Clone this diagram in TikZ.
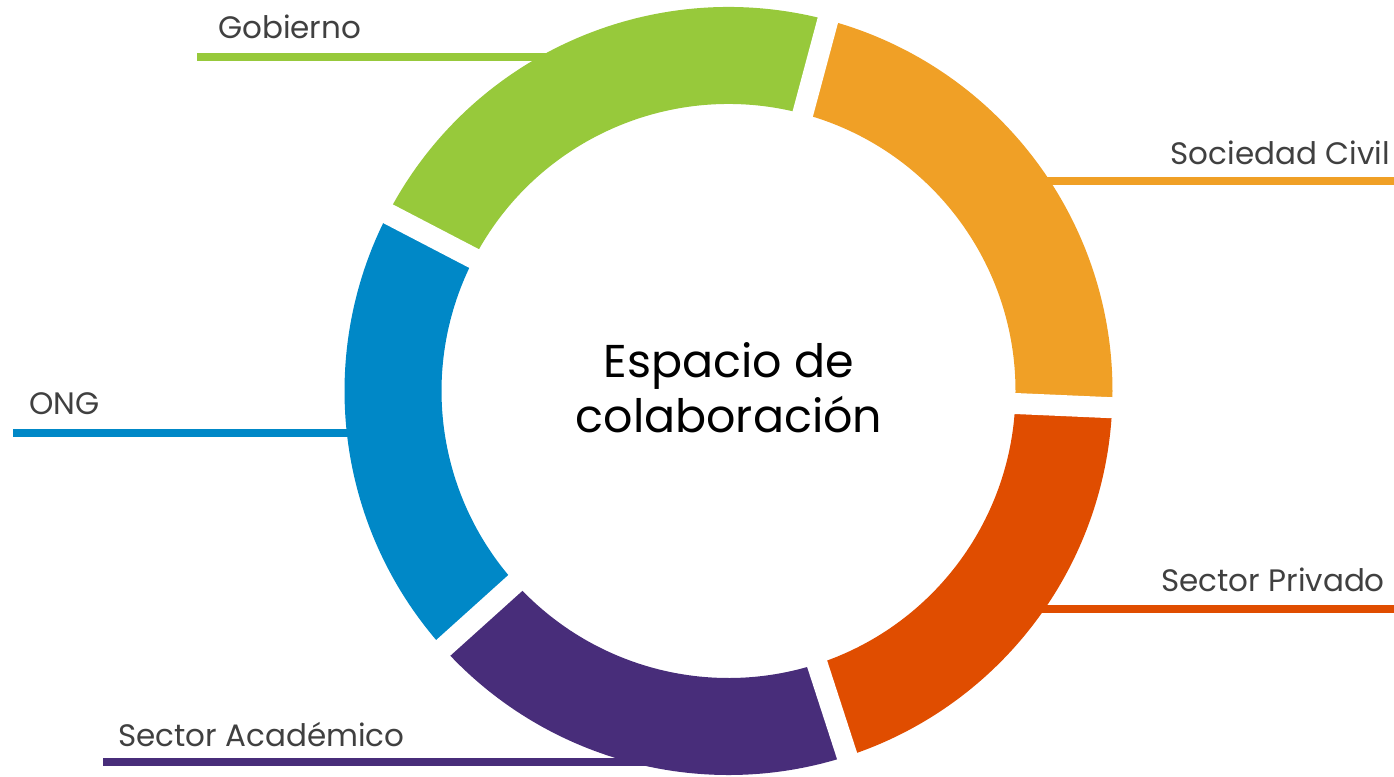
\documentclass[tikz,border=0pt]{standalone}
\usepackage{fontspec}
\setmainfont{Poppins}
\definecolor{gobgreen}{RGB}{151,201,59}
\definecolor{socorange}{RGB}{240,160,38}
\definecolor{privred}{RGB}{224,77,0}
\definecolor{acadpurple}{RGB}{72,45,122}
\definecolor{ongblue}{RGB}{0,136,199}
\definecolor{labelgray}{RGB}{64,64,64}
\tikzset{
	lbl/.style={font=\fontsize{31}{37}\selectfont,text=labelgray,inner sep=0pt},
	lead/.style={line width=7.5pt},
	gap/.style={draw=white,line width=21pt},
	core/.style={font=\fontsize{46}{55}\selectfont,align=center,inner sep=0pt}
}

\begin{document}
\begin{tikzpicture}[x=1pt,y=1pt]
	\useasboundingbox (0,0) rectangle (1394,776);
	\coordinate (gob-l) at (197,719);
	\coordinate (gob-r) at (600,719);
	\coordinate (soc-l) at (1000,595);
	\coordinate (soc-r) at (1394,595);
	\coordinate (ong-l) at (13,343);
	\coordinate (ong-r) at (400,343);
	\coordinate (aca-l) at (103,14);
	\coordinate (aca-r) at (680,14);
	\coordinate (pri-l) at (1000,167);
	\coordinate (pri-r) at (1394,167);
	\draw[lead,gobgreen] (gob-l) -- (gob-r);
	\draw[lead,socorange] (soc-l) -- (soc-r);
	\draw[lead,ongblue] (ong-l) -- (ong-r);
	\draw[lead,acadpurple] (aca-l) -- (aca-r);
	\draw[lead,privred] (pri-l) -- (pri-r);
	\begin{scope}[shift={(728.5,385)}]
		\fill[socorange] (-2.5:384) arc[start angle=-2.5,end angle=75,radius=384] -- (75:287) arc[start angle=75,end angle=-2.5,radius=287] -- cycle;
		\fill[gobgreen] (75:384) arc[start angle=75,end angle=152.5,radius=384] -- (152.5:287) arc[start angle=152.5,end angle=75,radius=287] -- cycle;
		\fill[ongblue] (152.5:384) arc[start angle=152.5,end angle=222,radius=384] -- (222:287) arc[start angle=222,end angle=152.5,radius=287] -- cycle;
		\fill[acadpurple] (222:384) arc[start angle=222,end angle=288,radius=384] -- (288:287) arc[start angle=288,end angle=222,radius=287] -- cycle;
		\fill[privred] (288:384) arc[start angle=288,end angle=357.5,radius=384] -- (357.5:287) arc[start angle=357.5,end angle=288,radius=287] -- cycle;
		\draw[gap] (-2.5:280) -- (-2.5:392);
		\draw[gap] (75:280) -- (75:392);
		\draw[gap] (152.5:280) -- (152.5:392);
		\draw[gap] (222:280) -- (222:392);
		\draw[gap] (288:280) -- (288:392);
		\node[core] (esp) at (0.5,3) {Espacio de\\colaboración};
	\end{scope}
	\node[lbl,anchor=base west] (gob) at (218,737) {Gobierno};
	\node[lbl,anchor=base east] (soc) at (1390,611) {Sociedad Civil};
	\node[lbl,anchor=base west] (ong) at (29,361) {ONG};
	\node[lbl,anchor=base west] (aca) at (118,30) {Sector Académico};
	\node[lbl,anchor=base east] (pri) at (1385,184) {Sector Privado};
\end{tikzpicture}
\end{document}
